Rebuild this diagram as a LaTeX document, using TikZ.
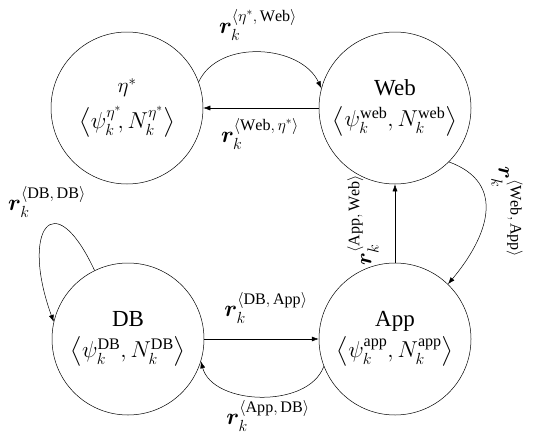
\RequirePackage{fix-cm}
\documentclass[tikz,border=0pt]{standalone}
\usepackage{amsmath}
\usepackage{bm}
\usepackage{fontspec}
\setmainfont{Liberation Serif}
\usetikzlibrary{arrows.meta}

\newcommand{\bigtxt}{\fontsize{23}{27}\selectfont}
\newcommand{\midtxt}{\fontsize{21}{24}\selectfont}
\tikzset{
	state/.style={draw, circle, minimum size=152pt, inner sep=0pt, align=center, line width=0.5pt, font=\bigtxt},
	trans/.style={-{Latex[length=7pt,width=5pt]}, line width=0.5pt},
	rlabel/.style={font=\fontsize{23}{26}\selectfont, inner sep=0pt}
}

\begin{document}
\begin{tikzpicture}[x=1pt,y=1pt]
\useasboundingbox (0,0) rectangle (535,-439);
% states
\node[state] (eta) at (127,-108) {\midtxt$\eta^{*}$\\[9pt]\bigtxt$\left\langle \psi_k^{\eta^*}\!, N_k^{\eta^*} \right\rangle$};
\node[state] (web) at (395,-108) {Web\\[4pt]$\left\langle \psi_k^{\mathrm{web}}, N_k^{\mathrm{web}} \right\rangle$};
\node[state] (db) at (128,-339) {DB\\[4pt]$\left\langle \psi_k^{\mathrm{DB}}, N_k^{\mathrm{DB}} \right\rangle$};
\node[state] (app) at (395,-339) {App\\[4pt]$\left\langle \psi_k^{\mathrm{app}}, N_k^{\mathrm{app}} \right\rangle$};
% transitions
\draw[trans] (eta.20) to[out=65,in=115,looseness=1] (web.165);
\draw[trans] (web.west) -- (eta.east);
\draw[trans] (web.-45) to[out=-20,in=50,looseness=1.3] (app.46);
\draw[trans] (app.north) -- (web.south);
\draw[trans] (db.116) to[out=115,in=110,looseness=3.8] (db.167);
\draw[trans] (db.east) -- (app.west);
\draw[trans] (app.201) to[out=250,in=-75,looseness=0.95] (db.-17);
% labels
\node[rlabel] (eta-web) at (258,-25) {$\bm{r}_k^{\left\langle \eta^*,\,\mathrm{Web} \right\rangle}$};
\node[rlabel] (web-eta) at (260,-134) {$\bm{r}_k^{\left\langle \mathrm{Web},\,\eta^* \right\rangle}$};
\node[rlabel] (db-db) at (47,-202) {$\bm{r}_k^{\left\langle \mathrm{DB,\,DB} \right\rangle}$};
\node[rlabel] (db-app) at (266,-308) {$\bm{r}_k^{\left\langle \mathrm{DB,\,App} \right\rangle}$};
\node[rlabel] (app-db) at (268,-416) {$\bm{r}_k^{\left\langle \mathrm{App,\,DB} \right\rangle}$};
\node[rlabel, rotate=90] (app-web) at (363,-220) {$\bm{r}_k^{\left\langle \mathrm{App,\,Web} \right\rangle}$};
\node[rlabel, rotate=-90] (web-app) at (507,-212) {$\bm{r}_k^{\left\langle \mathrm{Web,\,App} \right\rangle}$};
\end{tikzpicture}
\end{document}
